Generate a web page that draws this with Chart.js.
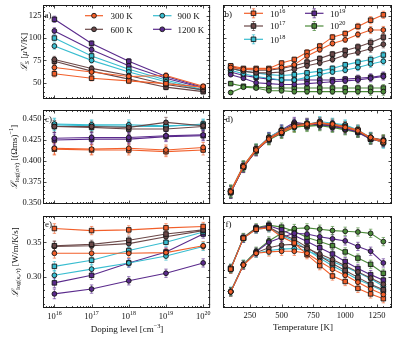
<!DOCTYPE html>
<html><head><meta charset="utf-8">
<script src="https://cdn.jsdelivr.net/npm/chart.js@4.4.1/dist/chart.umd.min.js"></script>
<style>
html,body{margin:0;padding:0;background:#fff;}
#fig{position:relative;width:397px;height:342px;overflow:hidden;background:#fff;}
#fig canvas{position:absolute;}
</style></head><body>
<div id="fig">
<canvas id="pa" width="215" height="104" style="left:0px;top:0px"></canvas>
<canvas id="pb" width="182" height="104" style="left:215px;top:0px"></canvas>
<canvas id="pc" width="215" height="106" style="left:0px;top:104px"></canvas>
<canvas id="pd" width="182" height="106" style="left:215px;top:104px"></canvas>
<canvas id="pe" width="215" height="132" style="left:0px;top:210px"></canvas>
<canvas id="pf" width="182" height="132" style="left:215px;top:210px"></canvas>
</div>
<script>
// ---------------- data ----------------
const dopingLevels = [1e16, 1e17, 1e18, 1e19, 1e20];
const dopingExponents = ['16', '17', '18', '19', '20'];
const temperatures = [100, 200, 300, 400, 500, 600, 700, 800, 900, 1000, 1100, 1200, 1300];
const temperatureNames = ['300 K', '600 K', '900 K', '1200 K'];
const seebeckTicks = [50, 75, 100, 125];
const sigmaTicks = [0.350, 0.375, 0.400, 0.425, 0.450];
const sigmaTickLabels = ['0.350', '0.375', '0.400', '0.425', '0.450'];
const kappaTicks = [0.30, 0.35];
const kappaTickLabels = ['0.30', '0.35'];
const temperatureTicks = [250, 500, 750, 1000, 1250];

// (a) Seebeck vs doping  (o = circles, s = squares)
const seebeck300K_o = [67, 62, 57, 58, 46];
const seebeck300K_s = [60, 55, 52, 49, 45];
const seebeck600K_o = [76, 66, 58, 48, 42];
const seebeck600K_s = [74, 63, 54, 45, 40];
const seebeck900K_o = [91, 75, 62, 51, 41];
const seebeck900K_s = [100, 80, 65, 53, 42];
const seebeck1200K_o = [108, 87, 69, 55, 44];
const seebeck1200K_s = [121, 94, 74, 57, 45];
const seebeckDopingErr = [3.5, 3, 3, 3, 2.5];

// (b) Seebeck vs temperature
const seebeck1e16_s = [69, 66, 66, 66, 72, 76, 84, 91, 101, 105, 113, 120, 126];
const seebeck1e16_o = [67, 65, 65, 65, 67, 70, 80, 87, 94, 98, 104, 109, 109];
const seebeck1e17_s = [68, 65, 64, 64, 66, 69, 73, 77, 82, 86, 90, 95, 101];
const seebeck1e17_o = [66, 63, 61, 61, 62, 65, 69, 72, 76, 81, 84, 88, 93];
const seebeck1e18_s = [66, 63, 61, 59, 58, 59, 61, 63, 66, 70, 73, 76, 81];
const seebeck1e18_o = [64, 60, 57, 55, 53, 53, 56, 59, 62, 64, 67, 71, 74];
const seebeck1e19_s = [62, 58, 56, 54, 53, 53, 53, 53, 53, 54, 55, 56, 58];
const seebeck1e19_o = [59, 55, 50, 49, 48, 48, 49, 50, 51, 52, 53, 55, 57];
const seebeck1e20_s = [49, 46, 45, 44, 44, 44, 44, 44, 44, 44, 44, 44, 44];
const seebeck1e20_o = [39, 45, 44, 41, 41, 40, 40, 40, 40, 40, 40, 40, 40];
const seebeckTempErr = [2, 2, 2, 2, 2.5, 2.5, 3, 3, 3, 3, 3.5, 4, 4];

// (c) log(sigma/tau) vs doping
const sigma300K_o = [0.415, 0.414, 0.415, 0.413, 0.416];
const sigma300K_s = [0.414, 0.413, 0.413, 0.411, 0.413];
const sigma600K_o = [0.441, 0.441, 0.440, 0.446, 0.442];
const sigma600K_s = [0.441, 0.440, 0.438, 0.438, 0.441];
const sigma900K_o = [0.444, 0.443, 0.443, 0.442, 0.443];
const sigma900K_s = [0.443, 0.442, 0.441, 0.441, 0.444];
const sigma1200K_o = [0.427, 0.428, 0.428, 0.430, 0.431];
const sigma1200K_s = [0.425, 0.426, 0.426, 0.429, 0.430];
const sigmaDopingErr = [0.007, 0.006, 0.006, 0.006, 0.006];

// (d) log(sigma/tau) vs temperature
const sigma1e16_o = [0.363, 0.393, 0.413, 0.426, 0.434, 0.441, 0.444, 0.445, 0.444, 0.440, 0.436, 0.428, 0.424];
const sigma1e16_s = [0.364, 0.394, 0.414, 0.427, 0.436, 0.442, 0.443, 0.446, 0.443, 0.441, 0.437, 0.427, 0.422];
const sigma1e17_o = [0.363, 0.392, 0.413, 0.427, 0.435, 0.443, 0.445, 0.444, 0.444, 0.441, 0.435, 0.428, 0.425];
const sigma1e17_s = [0.362, 0.393, 0.412, 0.426, 0.436, 0.444, 0.444, 0.446, 0.442, 0.440, 0.436, 0.426, 0.423];
const sigma1e18_o = [0.364, 0.394, 0.414, 0.428, 0.437, 0.443, 0.443, 0.447, 0.445, 0.443, 0.437, 0.428, 0.421];
const sigma1e18_s = [0.363, 0.393, 0.414, 0.427, 0.435, 0.442, 0.444, 0.445, 0.443, 0.442, 0.436, 0.427, 0.422];
const sigma1e19_o = [0.363, 0.393, 0.413, 0.428, 0.437, 0.446, 0.444, 0.443, 0.442, 0.438, 0.435, 0.427, 0.424];
const sigma1e19_s = [0.362, 0.392, 0.412, 0.426, 0.434, 0.444, 0.443, 0.444, 0.441, 0.439, 0.434, 0.426, 0.423];
const sigma1e20_o = [0.364, 0.394, 0.414, 0.426, 0.433, 0.440, 0.442, 0.442, 0.440, 0.437, 0.434, 0.427, 0.425];
const sigma1e20_s = [0.363, 0.393, 0.413, 0.425, 0.433, 0.441, 0.441, 0.443, 0.441, 0.438, 0.435, 0.426, 0.424];
const sigmaTempErr = [0.007, 0.006, 0.006, 0.006, 0.006, 0.006, 0.006, 0.006, 0.006, 0.006, 0.006, 0.006, 0.006];

// (e) log(kappa_e/tau) vs doping
const kappa300K_s = [0.370, 0.367, 0.368, 0.371, 0.373];
const kappa300K_o = [0.334, 0.334, 0.334, 0.335, 0.345];
const kappa600K_s = [0.345, 0.347, 0.353, 0.362, 0.368];
const kappa600K_o = [0.344, 0.345, 0.348, 0.358, 0.367];
const kappa900K_s = [0.315, 0.324, 0.338, 0.350, 0.365];
const kappa900K_o = [0.302, 0.311, 0.320, 0.330, 0.344];
const kappa1200K_s = [0.291, 0.302, 0.320, 0.336, 0.362];
const kappa1200K_o = [0.275, 0.282, 0.294, 0.305, 0.320];
const kappaDopingErr = [0.007, 0.006, 0.006, 0.006, 0.006];

// (f) log(kappa_e/tau) vs temperature
const kappa1e16_o = [0.278, 0.317, 0.334, 0.336, 0.337, 0.337, 0.334, 0.322, 0.311, 0.302, 0.292, 0.282, 0.274];
const kappa1e16_s = [0.311, 0.356, 0.369, 0.371, 0.358, 0.349, 0.332, 0.316, 0.301, 0.293, 0.283, 0.275, 0.268];
const kappa1e17_o = [0.278, 0.317, 0.335, 0.342, 0.346, 0.347, 0.341, 0.333, 0.325, 0.316, 0.307, 0.298, 0.289];
const kappa1e17_s = [0.311, 0.356, 0.370, 0.372, 0.362, 0.354, 0.343, 0.330, 0.319, 0.309, 0.299, 0.289, 0.281];
const kappa1e18_o = [0.279, 0.318, 0.334, 0.338, 0.340, 0.341, 0.338, 0.330, 0.322, 0.314, 0.306, 0.297, 0.286];
const kappa1e18_s = [0.312, 0.356, 0.369, 0.371, 0.360, 0.352, 0.339, 0.327, 0.316, 0.306, 0.296, 0.288, 0.279];
const kappa1e19_o = [0.278, 0.317, 0.336, 0.350, 0.357, 0.363, 0.362, 0.358, 0.355, 0.352, 0.344, 0.337, 0.320];
const kappa1e19_s = [0.312, 0.356, 0.370, 0.374, 0.368, 0.360, 0.351, 0.342, 0.333, 0.322, 0.312, 0.303, 0.295];
const kappa1e20_o = [0.278, 0.318, 0.337, 0.352, 0.363, 0.370, 0.371, 0.369, 0.367, 0.366, 0.365, 0.363, 0.351];
const kappa1e20_s = [0.312, 0.357, 0.371, 0.375, 0.372, 0.366, 0.357, 0.351, 0.345, 0.336, 0.327, 0.318, 0.305];
const kappaTempErr = [0.006, 0.006, 0.006, 0.006, 0.006, 0.006, 0.006, 0.006, 0.006, 0.006, 0.006, 0.006, 0.006];

// ---------------- styling ----------------
const COL = { orange: '#f25f2a', brown: '#6b4848', cyan: '#38bdd0', purple: '#5a2a8c', green: '#4c8a3a' };
const FONT = '"Liberation Serif", "DejaVu Serif", serif';

function rgba(hex, a) {
  const n = parseInt(hex.slice(1), 16);
  return 'rgba(' + ((n >> 16) & 255) + ',' + ((n >> 8) & 255) + ',' + (n & 255) + ',' + a + ')';
}
function series(xs, ys, color, shape, errs) {
  return {
    data: xs.map((x, i) => ({ x: x, y: ys[i] })),
    errs: errs,
    borderColor: color, backgroundColor: color, borderWidth: 1.1,
    pointStyle: shape, pointRadius: shape === 'rect' ? 3.2 : 2.4,
    pointBackgroundColor: color, pointBorderColor: '#151515', pointBorderWidth: 0.9,
    tension: 0, fill: false
  };
}
function fontFor(s, size) {
  let f = size;
  if (s.lvl === 2) f = size * 0.5; else if (s.sub || s.sup) f = size * 0.7;
  return (s.it ? 'italic ' : '') + f.toFixed(2) + 'px ' + FONT;
}
function richWidth(ctx, segs, size) {
  let w = 0;
  for (const s of segs) { ctx.font = fontFor(s, size); w += ctx.measureText(s.t).width; }
  return w;
}
function drawRich(ctx, segs, x, y, size, align) {
  const w = richWidth(ctx, segs, size);
  let cx = align === 'center' ? x - w / 2 : (align === 'right' ? x - w : x);
  ctx.textAlign = 'left'; ctx.textBaseline = 'alphabetic';
  for (const s of segs) {
    ctx.font = fontFor(s, size);
    let dy = 0;
    if (s.sub) dy = size * 0.25;
    if (s.sup) dy = -size * 0.42;
    if (s.lvl === 2) dy = size * 0.42;
    ctx.fillText(s.t, cx, y + dy);
    cx += ctx.measureText(s.t).width;
  }
}
function drawMarker(ctx, x, y, shape, color) {
  ctx.fillStyle = color; ctx.strokeStyle = '#151515'; ctx.lineWidth = 0.9;
  ctx.beginPath();
  if (shape === 'rect') ctx.rect(x - 2.3, y - 2.3, 4.6, 4.6);
  else ctx.arc(x, y, 2.4, 0, Math.PI * 2);
  ctx.fill(); ctx.stroke();
}
function minorRange(a, b, step, majors) {
  const out = [];
  for (let v = a; v <= b + 1e-9; v += step) {
    const r = Math.round(v / step) * step;
    if (!majors.some(m => Math.abs(m - r) < step * 0.01)) out.push(r);
  }
  return out;
}
const logMinor = [];
for (let e = 15; e <= 20; e++) for (let k = 2; k <= 9; k++) logMinor.push(k * Math.pow(10, e));

function deco(p) {
  return {
    id: 'deco',
    beforeDatasetsDraw(chart) {
      const ctx = chart.ctx, ys = chart.scales.y, a = chart.chartArea;
      ctx.save();
      ctx.beginPath(); ctx.rect(a.left, a.top, a.right - a.left, a.bottom - a.top); ctx.clip();
      chart.data.datasets.forEach((d, di) => {
        const meta = chart.getDatasetMeta(di);
        ctx.strokeStyle = rgba(d.borderColor, 0.7); ctx.lineWidth = 0.9;
        meta.data.forEach((el, i) => {
          const v = d.data[i].y, e = d.errs[i];
          const y1 = ys.getPixelForValue(v + e), y2 = ys.getPixelForValue(v - e);
          ctx.beginPath();
          ctx.moveTo(el.x, y1); ctx.lineTo(el.x, y2);
          ctx.moveTo(el.x - 1.7, y1); ctx.lineTo(el.x + 1.7, y1);
          ctx.moveTo(el.x - 1.7, y2); ctx.lineTo(el.x + 1.7, y2);
          ctx.stroke();
        });
      });
      ctx.restore();
    },
    afterDraw(chart) {
      const ctx = chart.ctx, a = chart.chartArea, xs = chart.scales.x, ys = chart.scales.y;
      ctx.save();
      // frame
      ctx.strokeStyle = '#1a1a1a'; ctx.lineWidth = 1;
      ctx.strokeRect(a.left + 0.5, a.top + 0.5, a.right - a.left - 1, a.bottom - a.top - 1);
      // ticks (inward, all sides)
      ctx.lineWidth = 0.8;
      const seg = (x1, y1, x2, y2) => { ctx.beginPath(); ctx.moveTo(x1, y1); ctx.lineTo(x2, y2); ctx.stroke(); };
      const xt = (vals, len) => vals.forEach(v => {
        const x = xs.getPixelForValue(v);
        if (x < a.left + 1 || x > a.right - 1) return;
        const px = Math.round(x) + 0.5;
        seg(px, a.bottom, px, a.bottom - len); seg(px, a.top, px, a.top + len);
      });
      const yt = (vals, len) => vals.forEach(v => {
        const y = ys.getPixelForValue(v);
        if (y < a.top + 1 || y > a.bottom - 1) return;
        const py = Math.round(y) + 0.5;
        seg(a.left, py, a.left + len, py); seg(a.right, py, a.right - len, py);
      });
      xt(p.xMajor, 3.5); xt(p.xMinor, 2);
      yt(p.yMajor, 3.5); yt(p.yMinor, 2);

      ctx.translate(-p.off[0], -p.off[1]);
      ctx.fillStyle = '#111';
      // y tick labels
      if (p.yLabels) {
        ctx.font = '8.5px ' + FONT; ctx.textAlign = 'right'; ctx.textBaseline = 'middle';
        p.yMajor.forEach((v, i) => ctx.fillText(p.yLabels[i], 41.5, ys.getPixelForValue(v) + p.off[1]));
      }
      // x tick labels
      if (p.xLabels) {
        p.xMajor.forEach((v, i) => drawRich(ctx, p.xLabels[i], xs.getPixelForValue(v) + p.off[0], p.xLabelY, 8.5, 'center'));
      }
      if (p.xTitle) drawRich(ctx, p.xTitle.segs, p.xTitle.x, p.xTitle.y, 9, 'center');
      if (p.yTitle) {
        ctx.save();
        ctx.translate(p.yTitle.x, (a.top + a.bottom) / 2 + p.off[1]);
        ctx.rotate(-Math.PI / 2);
        drawRich(ctx, p.yTitle.segs, 0, 0, 9, 'center');
        ctx.restore();
      }
      // panel tag
      ctx.font = '9px ' + FONT; ctx.textAlign = 'left'; ctx.textBaseline = 'alphabetic'; ctx.fillStyle = '#111';
      ctx.fillText(p.tag[0], p.tag[1], p.tag[2]);
      // legend
      if (p.legend) p.legend.forEach(it => {
        ctx.strokeStyle = it.color; ctx.lineWidth = 1.2;
        seg(it.x0, it.y, it.x1, it.y);
        const mx = (it.x0 + it.x1) / 2;
        if (it.err) {
          ctx.strokeStyle = rgba(it.color, 0.8); ctx.lineWidth = 0.9;
          seg(mx, it.y - 4.5, mx, it.y + 4.5);
          seg(mx - 1.7, it.y - 4.5, mx + 1.7, it.y - 4.5);
          seg(mx - 1.7, it.y + 4.5, mx + 1.7, it.y + 4.5);
        }
        drawMarker(ctx, mx, it.y, it.shape, it.color);
        ctx.fillStyle = '#111';
        drawRich(ctx, it.label, it.tx, it.y + 3.2, 9, 'left');
      });
      ctx.restore();
    }
  };
}

function makeChart(id, p) {
  return new Chart(document.getElementById(id), {
    type: 'line',
    data: { datasets: p.datasets },
    options: {
      responsive: false, animation: false, devicePixelRatio: 1,
      layout: { padding: p.pad },
      plugins: { legend: { display: false }, tooltip: { enabled: false } },
      scales: {
        x: { type: p.xType, min: p.xRange[0], max: p.xRange[1], display: false },
        y: { type: 'linear', min: p.yRange[0], max: p.yRange[1], display: false }
      }
    },
    plugins: [deco(p)]
  });
}

const dopRange = [4.94e15, 1.535e20];
const tempRange = [39.5, 1368];
const seebeckRange = [31.75, 137.0];
const sigmaRange = [0.3484, 0.4608];
const kappaRange = [0.2545, 0.3882];
const padL = { left: 43, right: 3 }, padR = { left: 8, right: 5 };
const sup = t => ({ t: t, sup: true });
const dopTickSegs = dopingExponents.map(e => [{ t: '10' }, sup(e)]);
const tempTickSegs = temperatureTicks.map(t => [{ t: String(t) }]);
const seebeckMinor = minorRange(35, 135, 5, seebeckTicks);
const sigmaMinor = minorRange(0.350, 0.460, 0.005, sigmaTicks);
const kappaMinor = minorRange(0.26, 0.38, 0.01, kappaTicks);
const tempMinor = minorRange(50, 1350, 50, temperatureTicks);

const D = dopingLevels, T = temperatures;

// (a)
makeChart('pa', {
  off: [0, 0], pad: { left: padL.left, right: padL.right, top: 5, bottom: 5 },
  xType: 'logarithmic', xRange: dopRange, yRange: seebeckRange,
  xMajor: dopingLevels, xMinor: logMinor, yMajor: seebeckTicks, yMinor: seebeckMinor,
  yLabels: seebeckTicks.map(String),
  yTitle: { x: 26.5, segs: [{ t: 'ℒ', it: true }, { t: 'S', sub: true, it: true }, { t: ' [' }, { t: 'μ', it: true }, { t: 'V/K]' }] },
  tag: ['a)', 44.5, 18],
  legend: [
    { x0: 85, x1: 103, tx: 110.5, y: 15.7, color: COL.orange, shape: 'circle', label: [{ t: temperatureNames[0] }] },
    { x0: 153, x1: 171.5, tx: 177.5, y: 15.7, color: COL.cyan, shape: 'circle', label: [{ t: temperatureNames[2] }] },
    { x0: 85, x1: 103, tx: 110.5, y: 29.3, color: COL.brown, shape: 'circle', label: [{ t: temperatureNames[1] }] },
    { x0: 153, x1: 171.5, tx: 177.5, y: 29.3, color: COL.purple, shape: 'circle', label: [{ t: temperatureNames[3] }] }
  ],
  datasets: [
    series(D, seebeck300K_o, COL.orange, 'circle', seebeckDopingErr),
    series(D, seebeck300K_s, COL.orange, 'rect', seebeckDopingErr),
    series(D, seebeck600K_o, COL.brown, 'circle', seebeckDopingErr),
    series(D, seebeck600K_s, COL.brown, 'rect', seebeckDopingErr),
    series(D, seebeck900K_o, COL.cyan, 'circle', seebeckDopingErr),
    series(D, seebeck900K_s, COL.cyan, 'rect', seebeckDopingErr),
    series(D, seebeck1200K_o, COL.purple, 'circle', seebeckDopingErr),
    series(D, seebeck1200K_s, COL.purple, 'rect', seebeckDopingErr)
  ]
});

// (b)
makeChart('pb', {
  off: [215, 0], pad: { left: padR.left, right: padR.right, top: 5, bottom: 5 },
  xType: 'linear', xRange: tempRange, yRange: seebeckRange,
  xMajor: temperatureTicks, xMinor: tempMinor, yMajor: seebeckTicks, yMinor: seebeckMinor,
  tag: ['b)', 224.5, 17],
  legend: [
    { x0: 244, x1: 263, tx: 270, y: 13.3, color: COL.orange, shape: 'rect', err: true, label: [{ t: '10' }, sup(dopingExponents[0])] },
    { x0: 244, x1: 263, tx: 270, y: 26, color: COL.brown, shape: 'rect', err: true, label: [{ t: '10' }, sup(dopingExponents[1])] },
    { x0: 244, x1: 263, tx: 270, y: 39.3, color: COL.cyan, shape: 'rect', err: true, label: [{ t: '10' }, sup(dopingExponents[2])] },
    { x0: 305, x1: 323.5, tx: 330, y: 13.3, color: COL.purple, shape: 'rect', err: true, label: [{ t: '10' }, sup(dopingExponents[3])] },
    { x0: 305, x1: 323.5, tx: 330, y: 26, color: COL.green, shape: 'rect', err: true, label: [{ t: '10' }, sup(dopingExponents[4])] }
  ],
  datasets: [
    series(T, seebeck1e16_o, COL.orange, 'circle', seebeckTempErr),
    series(T, seebeck1e16_s, COL.orange, 'rect', seebeckTempErr),
    series(T, seebeck1e17_o, COL.brown, 'circle', seebeckTempErr),
    series(T, seebeck1e17_s, COL.brown, 'rect', seebeckTempErr),
    series(T, seebeck1e18_o, COL.cyan, 'circle', seebeckTempErr),
    series(T, seebeck1e18_s, COL.cyan, 'rect', seebeckTempErr),
    series(T, seebeck1e19_o, COL.purple, 'circle', seebeckTempErr),
    series(T, seebeck1e19_s, COL.purple, 'rect', seebeckTempErr),
    series(T, seebeck1e20_o, COL.green, 'circle', seebeckTempErr),
    series(T, seebeck1e20_s, COL.green, 'rect', seebeckTempErr)
  ]
});

// (c)
makeChart('pc', {
  off: [0, 104], pad: { left: padL.left, right: padL.right, top: 6, bottom: 6 },
  xType: 'logarithmic', xRange: dopRange, yRange: sigmaRange,
  xMajor: dopingLevels, xMinor: logMinor, yMajor: sigmaTicks, yMinor: sigmaMinor,
  yLabels: sigmaTickLabels,
  yTitle: { x: 16.5, segs: [{ t: 'ℒ', it: true }, { t: 'log(', sub: true }, { t: 'σ/τ', sub: true, it: true }, { t: ')', sub: true }, { t: ' [(Ωms)' }, sup('−1'), { t: ']' }] },
  tag: ['c)', 45, 121.5],
  datasets: [
    series(D, sigma300K_o, COL.orange, 'circle', sigmaDopingErr),
    series(D, sigma300K_s, COL.orange, 'rect', sigmaDopingErr),
    series(D, sigma600K_o, COL.brown, 'circle', sigmaDopingErr),
    series(D, sigma600K_s, COL.brown, 'rect', sigmaDopingErr),
    series(D, sigma900K_o, COL.cyan, 'circle', sigmaDopingErr),
    series(D, sigma900K_s, COL.cyan, 'rect', sigmaDopingErr),
    series(D, sigma1200K_o, COL.purple, 'circle', sigmaDopingErr),
    series(D, sigma1200K_s, COL.purple, 'rect', sigmaDopingErr)
  ]
});

// (d)
makeChart('pd', {
  off: [215, 104], pad: { left: padR.left, right: padR.right, top: 6, bottom: 6 },
  xType: 'linear', xRange: tempRange, yRange: sigmaRange,
  xMajor: temperatureTicks, xMinor: tempMinor, yMajor: sigmaTicks, yMinor: sigmaMinor,
  tag: ['d)', 225.5, 121.5],
  datasets: [
    series(T, sigma1e16_o, COL.orange, 'circle', sigmaTempErr),
    series(T, sigma1e16_s, COL.orange, 'rect', sigmaTempErr),
    series(T, sigma1e17_o, COL.brown, 'circle', sigmaTempErr),
    series(T, sigma1e17_s, COL.brown, 'rect', sigmaTempErr),
    series(T, sigma1e18_o, COL.cyan, 'circle', sigmaTempErr),
    series(T, sigma1e18_s, COL.cyan, 'rect', sigmaTempErr),
    series(T, sigma1e19_o, COL.purple, 'circle', sigmaTempErr),
    series(T, sigma1e19_s, COL.purple, 'rect', sigmaTempErr),
    series(T, sigma1e20_o, COL.green, 'circle', sigmaTempErr),
    series(T, sigma1e20_s, COL.green, 'rect', sigmaTempErr)
  ]
});

// (e)
makeChart('pe', {
  off: [0, 210], pad: { left: padL.left, right: padL.right, top: 6, bottom: 34 },
  xType: 'logarithmic', xRange: dopRange, yRange: kappaRange,
  xMajor: dopingLevels, xMinor: logMinor, yMajor: kappaTicks, yMinor: kappaMinor,
  yLabels: kappaTickLabels,
  xLabels: dopTickSegs, xLabelY: 319,
  xTitle: { x: 127, y: 332, segs: [{ t: 'Doping level [cm' }, sup('−3'), { t: ']' }] },
  yTitle: { x: 17.5, segs: [{ t: 'ℒ', it: true }, { t: 'log(', sub: true }, { t: 'κ', sub: true, it: true }, { t: 'e', lvl: 2, it: true }, { t: '/τ', sub: true, it: true }, { t: ')', sub: true }, { t: ' [W/m/K/s]' }] },
  tag: ['e)', 45, 226.5],
  datasets: [
    series(D, kappa300K_s, COL.orange, 'rect', kappaDopingErr),
    series(D, kappa300K_o, COL.orange, 'circle', kappaDopingErr),
    series(D, kappa600K_s, COL.brown, 'rect', kappaDopingErr),
    series(D, kappa600K_o, COL.brown, 'circle', kappaDopingErr),
    series(D, kappa900K_s, COL.cyan, 'rect', kappaDopingErr),
    series(D, kappa900K_o, COL.cyan, 'circle', kappaDopingErr),
    series(D, kappa1200K_s, COL.purple, 'rect', kappaDopingErr),
    series(D, kappa1200K_o, COL.purple, 'circle', kappaDopingErr)
  ]
});

// (f)
makeChart('pf', {
  off: [215, 210], pad: { left: padR.left, right: padR.right, top: 6, bottom: 34 },
  xType: 'linear', xRange: tempRange, yRange: kappaRange,
  xMajor: temperatureTicks, xMinor: tempMinor, yMajor: kappaTicks, yMinor: kappaMinor,
  xLabels: tempTickSegs, xLabelY: 317.5,
  xTitle: { x: 303, y: 330, segs: [{ t: 'Temperature [K]' }] },
  tag: ['f)', 225.5, 226.5],
  datasets: [
    series(T, kappa1e16_o, COL.orange, 'circle', kappaTempErr),
    series(T, kappa1e16_s, COL.orange, 'rect', kappaTempErr),
    series(T, kappa1e17_o, COL.brown, 'circle', kappaTempErr),
    series(T, kappa1e17_s, COL.brown, 'rect', kappaTempErr),
    series(T, kappa1e18_o, COL.cyan, 'circle', kappaTempErr),
    series(T, kappa1e18_s, COL.cyan, 'rect', kappaTempErr),
    series(T, kappa1e19_o, COL.purple, 'circle', kappaTempErr),
    series(T, kappa1e19_s, COL.purple, 'rect', kappaTempErr),
    series(T, kappa1e20_o, COL.green, 'circle', kappaTempErr),
    series(T, kappa1e20_s, COL.green, 'rect', kappaTempErr)
  ]
});
</script>
</body></html>
